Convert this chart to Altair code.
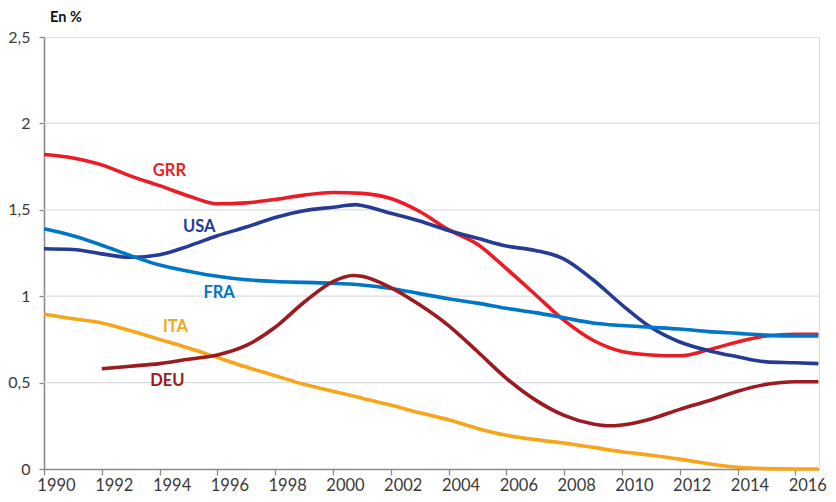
import altair as alt
import pandas as pd

# ---- data ----
series_names = ["GRR", "USA", "FRA", "ITA", "DEU"]
series_colors = ["#EC1C24", "#253B95", "#0077C6", "#F9A51B", "#9B1B21"]

years_grr = [1990, 1991, 1992, 1993, 1994, 1995, 1996, 1997, 1998, 1999, 2000, 2001, 2002,
             2003, 2004, 2005, 2006, 2007, 2008, 2009, 2010, 2011, 2012, 2013, 2014, 2015, 2016, 2016.8]
vals_grr = [1.82, 1.80, 1.76, 1.695, 1.64, 1.58, 1.535, 1.54, 1.56, 1.585, 1.60, 1.595, 1.565,
            1.49, 1.385, 1.30, 1.16, 1.01, 0.86, 0.745, 0.68, 0.66, 0.655, 0.69, 0.735, 0.77, 0.78, 0.78]

years_usa = [1990, 1991, 1992, 1993, 1994, 1995, 1996, 1997, 1998, 1999, 2000, 2000.8, 2001, 2002,
             2003, 2004, 2005, 2006, 2007, 2008, 2009, 2010, 2011, 2012, 2013, 2014, 2015, 2016, 2016.8]
vals_usa = [1.275, 1.27, 1.245, 1.225, 1.24, 1.29, 1.35, 1.40, 1.455, 1.495, 1.515, 1.53, 1.525, 1.48,
            1.435, 1.38, 1.335, 1.29, 1.265, 1.215, 1.095, 0.95, 0.82, 0.735, 0.685, 0.65, 0.62, 0.615, 0.61]

years_fra = [1990, 1991, 1992, 1993, 1994, 1995, 1996, 1997, 1998, 1999, 2000, 2001, 2002, 2003,
             2004, 2005, 2006, 2007, 2008, 2009, 2010, 2011, 2012, 2013, 2014, 2015, 2016, 2016.8]
vals_fra = [1.39, 1.35, 1.295, 1.235, 1.18, 1.145, 1.115, 1.095, 1.085, 1.08, 1.075, 1.065, 1.045, 1.015,
            0.985, 0.96, 0.93, 0.905, 0.875, 0.845, 0.83, 0.82, 0.81, 0.795, 0.785, 0.775, 0.77, 0.77]

years_ita = [1990, 1991, 1992, 1993, 1994, 1995, 1996, 1997, 1998, 1999, 2000, 2001, 2002, 2003,
             2004, 2005, 2006, 2007, 2008, 2009, 2010, 2011, 2012, 2013, 2014, 2015, 2016, 2016.8]
vals_ita = [0.895, 0.87, 0.845, 0.80, 0.75, 0.70, 0.645, 0.59, 0.54, 0.49, 0.45, 0.41, 0.37, 0.325,
            0.285, 0.235, 0.195, 0.17, 0.15, 0.125, 0.10, 0.08, 0.057, 0.03, 0.01, 0.002, 0.0, 0.0]

years_deu = [1992, 1993, 1994, 1995, 1996, 1997, 1998, 1999, 2000, 2000.7, 2001, 2002, 2003, 2004,
             2005, 2006, 2007, 2008, 2009, 2009.5, 2010, 2011, 2012, 2013, 2014, 2015, 2016, 2016.8]
vals_deu = [0.58, 0.595, 0.61, 0.635, 0.66, 0.715, 0.82, 0.965, 1.085, 1.12, 1.115, 1.05, 0.95, 0.83,
            0.68, 0.525, 0.40, 0.31, 0.26, 0.25, 0.255, 0.29, 0.345, 0.395, 0.45, 0.49, 0.505, 0.505]

# in-chart series labels (data coordinates)
label_x = [1994.34, 1995.37, 1996.06, 1994.55, 1994.27]
label_y = [1.724, 1.402, 1.017, 0.822, 0.511]

unit_text = ["En %"]
x_ticks = list(range(1990, 2017, 2))
y_ticks = [0, 0.5, 1, 1.5, 2, 2.5]
grid_values = [0.5, 1, 1.5, 2]

# ---- tables ----
rows = []
for name, xs, ys in [("GRR", years_grr, vals_grr), ("USA", years_usa, vals_usa),
                     ("FRA", years_fra, vals_fra), ("ITA", years_ita, vals_ita),
                     ("DEU", years_deu, vals_deu)]:
    for xv, yv in zip(xs, ys):
        rows.append({"serie": name, "annee": xv, "val": yv})
df = pd.DataFrame(rows)
df_lab = pd.DataFrame({"serie": series_names, "annee": label_x, "val": label_y})
df_grid = pd.DataFrame({"val": grid_values})
df_unit = pd.DataFrame({"t": unit_text})

FONT = "Lato"
x_scale = alt.Scale(domain=[1990, 2016.82], nice=False, zero=False)
y_scale = alt.Scale(domain=[0, 2.5], nice=False)
color = alt.Color("serie:N", scale=alt.Scale(domain=series_names, range=series_colors), legend=None)

x_axis = alt.Axis(values=x_ticks, format="d", title=None, grid=False, tickSize=6, tickWidth=1.3,
                  labelOffset=12, labelPadding=2, labelFontSize=16.5, labelFont=FONT,
                  labelColor="#3a3a3a", domainColor="#8a8a8a", tickColor="#8a8a8a",
                  domainWidth=1.6, labelFlush=False, labelOverlap=False)
y_axis = alt.Axis(values=y_ticks, labelExpr="replace(toString(datum.value), '.', ',')",
                  title=None, grid=False, tickSize=5, tickWidth=1.3, labelPadding=9,
                  labelFontSize=16, labelFont=FONT, labelColor="#3a3a3a",
                  domainColor="#8a8a8a", tickColor="#8a8a8a", domainWidth=1.6)

grid = alt.Chart(df_grid).mark_rule(color="#DCDDE0", strokeWidth=1.3).encode(
    y=alt.Y("val:Q", scale=y_scale, axis=y_axis)
)

lines = alt.Chart(df).mark_line(strokeWidth=3.6, interpolate="monotone").encode(
    x=alt.X("annee:Q", scale=x_scale, axis=x_axis),
    y=alt.Y("val:Q", scale=y_scale, axis=y_axis),
    color=color,
    detail="serie:N",
)

labels = alt.Chart(df_lab).mark_text(font=FONT, fontSize=16.5, fontWeight=700,
                                     align="center", baseline="middle").encode(
    x=alt.X("annee:Q", scale=x_scale, axis=x_axis),
    y=alt.Y("val:Q", scale=y_scale, axis=y_axis),
    text="serie:N",
    color=color,
)

unit = alt.Chart(df_unit).mark_text(font=FONT, fontSize=14.5, fontWeight=700, color="#111111",
                                    align="left", baseline="alphabetic").encode(
    x=alt.value(6), y=alt.value(-15), text="t:N"
)

chart = alt.layer(grid, lines, labels, unit).properties(
    width=775,
    height=432,
    autosize=alt.AutoSizeParams(type="none"),
    padding={"left": 36, "top": 29, "right": 9, "bottom": 25},
).configure_view(fill="#F1F2F4", strokeWidth=0).configure(background="white")

chart.save("out.html", embed_options={"renderer": "svg", "actions": False})
